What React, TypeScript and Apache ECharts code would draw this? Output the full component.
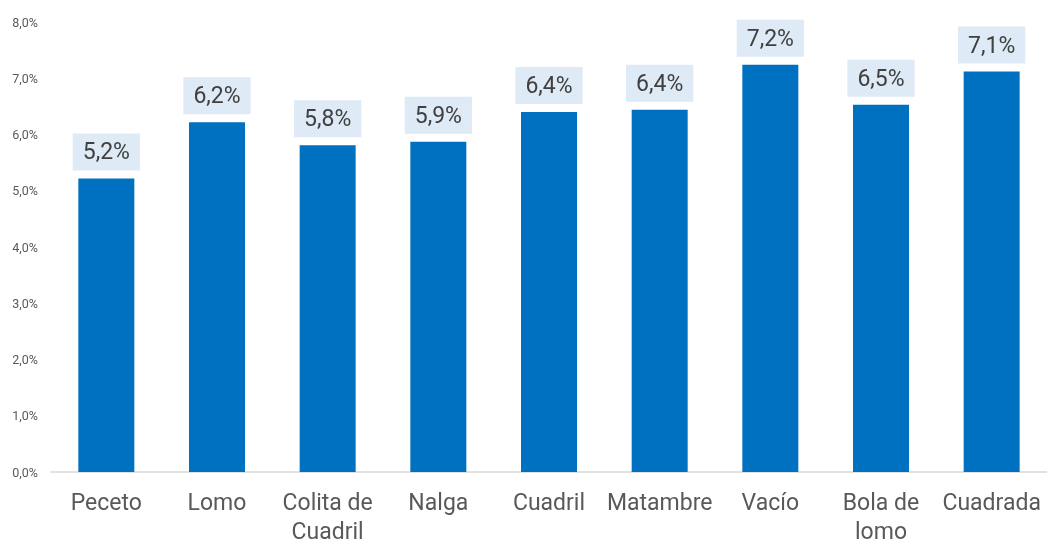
import React, { useEffect, useRef } from "react";
import * as echarts from "echarts";

const categories = ["Peceto", "Lomo", "Colita de\nCuadril", "Nalga", "Cuadril", "Matambre", "Vacío", "Bola de\nlomo", "Cuadrada"];
const values = [5.22, 6.22, 5.81, 5.87, 6.4, 6.44, 7.24, 6.53, 7.12];
const yTicks = { min: 0, max: 8, interval: 1 };

const fmt = (v: number) => v.toFixed(1).replace(".", ",") + "%";

export default function App() {
  const ref = useRef<HTMLDivElement>(null);
  useEffect(() => {
    if (!ref.current) return;
    document.body.style.margin = "0";
    document.documentElement.style.overflow = "hidden";
    const chart = echarts.init(ref.current, undefined, { renderer: "svg" });
    chart.setOption({
      animation: false,
      textStyle: { fontFamily: "Roboto" },
      grid: { left: 51, top: 22, right: -3, bottom: 68 },
      xAxis: {
        type: "category",
        data: categories,
        axisLine: { lineStyle: { color: "#d9d9d9", width: 1.5 } },
        axisTick: { show: false },
        axisLabel: { color: "#595959", fontSize: 23, lineHeight: 29, margin: 16, interval: 0, fontFamily: "Roboto" },
      },
      yAxis: {
        type: "value",
        min: yTicks.min,
        max: yTicks.max,
        interval: yTicks.interval,
        axisLine: { show: false },
        axisTick: { show: false },
        splitLine: { show: false },
        axisLabel: { color: "#595959", fontSize: 12.5, margin: 13, formatter: (v: number) => fmt(v), fontFamily: "Roboto" },
      },
      series: [
        {
          type: "bar",
          data: values,
          barWidth: 56,
          itemStyle: { color: "#0070C0" },
          label: {
            show: true,
            position: "top",
            distance: 8,
            formatter: (p: any) => fmt(p.value),
            color: "#404040",
            fontSize: 23,
            lineHeight: 25,
            fontFamily: "Roboto",
            backgroundColor: "#DEEAF6",
            padding: [6, 10],
          },
        },
      ],
    });
    return () => chart.dispose();
  }, []);
  return <div ref={ref} style={{ position: "fixed", left: 0, top: 0, width: "100vw", height: "100vh" }} />;
}
